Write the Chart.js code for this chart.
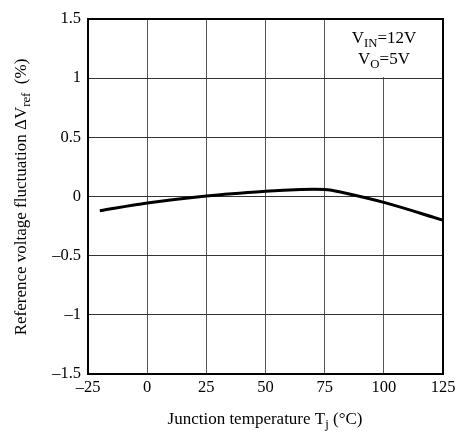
<!DOCTYPE html>
<html>
<head>
<meta charset="utf-8">
<script src="https://cdn.jsdelivr.net/npm/chart.js@4.4.1/dist/chart.umd.min.js"></script>
<style>
  html, body { margin: 0; padding: 0; background: #fff; }
  #wrap { width: 461px; height: 431px; }
</style>
</head>
<body>
<div id="wrap"><canvas id="c" width="461" height="431"></canvas></div>
<script>
// temperature (°C) and fluctuation (%)
const tempC = [-20, 0, 25, 50, 65, 75, 80, 100, 125];
const dVref = [-0.12, -0.055, 0.005, 0.045, 0.06, 0.06, 0.045, -0.05, -0.2];
const xTicks = [-25, 0, 25, 50, 75, 100, 125];
const yTicks = [-1.5, -1, -0.5, 0, 0.5, 1, 1.5];

const serif = "'Liberation Serif', 'DejaVu Serif', serif";
const fmt = v => String(v).replace('-', '\u2013');

// text with a subscript run, drawn piece by piece
function subText(ctx, parts, x, y, size) {
    let w = 0;
    parts.forEach(p => {
        ctx.font = (p.sub ? size * 0.75 : size) + 'px ' + serif;
        w += ctx.measureText(p.t).width;
    });
    let cx = x - w / 2;
    parts.forEach(p => {
        ctx.font = (p.sub ? size * 0.75 : size) + 'px ' + serif;
        ctx.fillText(p.t, cx, p.sub ? y + size * 0.25 : y);
        cx += ctx.measureText(p.t).width;
    });
}

const extras = {
    id: 'extras',
    beforeDatasetsDraw(chart) {
        const { ctx, chartArea: a, scales: { x, y } } = chart;
        // white patch behind the condition label
        ctx.save();
        ctx.fillStyle = '#fff';
        ctx.fillRect(x.getPixelForValue(88), a.top + 1, a.right - x.getPixelForValue(88) - 1, y.getPixelForValue(1) - a.top - 2);
        ctx.restore();
    },
    afterDatasetsDraw(chart) {
        const { ctx, chartArea: a } = chart;
        ctx.save();
        ctx.strokeStyle = '#000';
        ctx.lineWidth = 2;
        ctx.strokeRect(a.left, a.top, a.right - a.left, a.bottom - a.top);
        ctx.fillStyle = '#000';
        ctx.textBaseline = 'middle';
        ctx.textAlign = 'left';
        subText(ctx, [{ t: 'V' }, { t: 'IN', sub: true }, { t: '=12V' }], 384, 39, 17);
        subText(ctx, [{ t: 'V' }, { t: 'O', sub: true }, { t: '=5V' }], 384, 60, 17);
        // axis titles
        subText(ctx, [{ t: 'Junction temperature T' }, { t: 'j', sub: true }, { t: ' (\u00b0C)' }], 265, 420, 17);
        ctx.translate(22, 197);
        ctx.rotate(-Math.PI / 2);
        subText(ctx, [{ t: 'Reference voltage fluctuation \u0394V' }, { t: 'ref', sub: true }, { t: '  (%)' }], 0, 0, 17);
        ctx.restore();
    }
};

new Chart(document.getElementById('c'), {
    type: 'line',
    data: {
        datasets: [{
            data: tempC.map((t, i) => ({ x: t, y: dVref[i] })),
            borderColor: '#000',
            borderWidth: 3,
            pointRadius: 0,
            tension: 0.35,
            fill: false
        }]
    },
    options: {
        responsive: false,
        animation: false,
        layout: { padding: { left: 0, top: 19, right: 18, bottom: 0 } },
        plugins: { legend: { display: false }, tooltip: { enabled: false } },
        scales: {
            x: {
                type: 'linear', min: -25, max: 125,
                afterBuildTicks: s => { s.ticks = xTicks.map(v => ({ value: v })); },
                afterFit: s => { s.height = 57; },
                grid: { color: '#555', lineWidth: 1, drawTicks: false },
                border: { color: '#000', width: 2 },
                ticks: { color: '#000', padding: 4, maxRotation: 0, font: { family: serif, size: 16.5 }, callback: fmt }
            },
            y: {
                min: -1.5, max: 1.5,
                afterBuildTicks: s => { s.ticks = yTicks.map(v => ({ value: v })); },
                afterFit: s => { s.width = 88; },
                grid: { color: '#333', lineWidth: 1, drawTicks: false },
                border: { color: '#000', width: 2 },
                ticks: { color: '#000', padding: 7, font: { family: serif, size: 16.5 }, callback: fmt }
            }
        }
    },
    plugins: [extras]
});
</script>
</body>
</html>
